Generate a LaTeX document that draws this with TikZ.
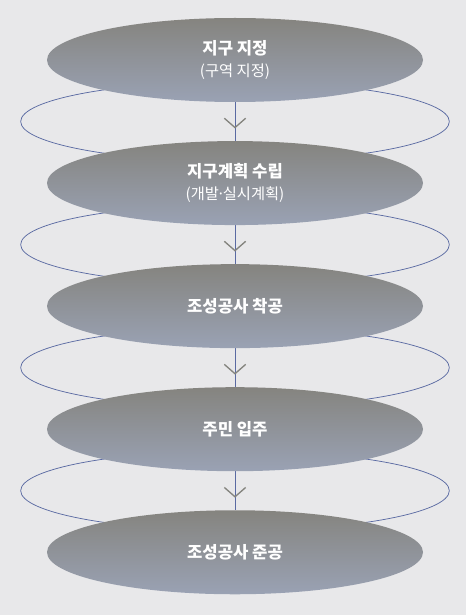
\documentclass[tikz,border=0pt]{standalone}
\usepackage{fontspec}
\setmainfont{Noto Sans CJK KR}
\usetikzlibrary{shapes.geometric, arrows.meta, positioning, calc,
                decorations.markings, backgrounds}
\definecolor{bgcol}{HTML}{E8E8EA}
\definecolor{topcol}{HTML}{85847F}
\definecolor{botcol}{HTML}{9AA2B4}
\definecolor{ringcol}{HTML}{5A6AA2}
\definecolor{tipcol}{HTML}{84847E}

\newcommand{\subline}[1]{\\[1pt]{\fontsize{11.5}{13}\selectfont\mdseries #1}}

\begin{document}
\begin{tikzpicture}[
    x=0.75pt, y=0.75pt,
    node distance=28.9pt,
    stage/.style={ellipse, top color=topcol, bottom color=botcol, draw=none,
                 minimum width=282pt, minimum height=63pt, inner sep=0pt,
                 align=center, text=white, font=\fontsize{12.5}{15}\selectfont\bfseries},
    ring/.style={ellipse, draw=ringcol, line width=0.55pt,
                minimum width=321.5pt, minimum height=60pt},
    flow/.style={draw=ringcol, line width=0.7pt, postaction={decorate},
                decoration={markings, mark=at position 0.68 with
                {\arrow[tipcol, line width=1pt]{Straight Barb[length=7pt, width=16pt]}}}}
]
\useasboundingbox (0,0) rectangle (466,615);
% stages
\node[stage] (e1) at (235,555) {지구 지정\subline{(구역 지정)}};
\node[stage, below=of e1] (e2) {지구계획 수립\subline{(개발\kern-1.8pt·\kern-1.8pt실시계획)}};
\node[stage, below=of e2] (e3) {조성공사 착공};
\node[stage, below=of e3] (e4) {주민 입주};
\node[stage, below=of e4] (e5) {조성공사 준공};
% rings and links behind the stages
\begin{scope}[on background layer]
\fill[bgcol] (0,0) rectangle (466,615);
\foreach \a/\b in {e1/e2, e2/e3, e3/e4, e4/e5} {
    \node[ring] (r-\a) at ($(\a)!0.5!(\b)$) {};
    \draw[flow] (\a.south) -- (\b.north);
}
\end{scope}
\end{tikzpicture}
\end{document}
